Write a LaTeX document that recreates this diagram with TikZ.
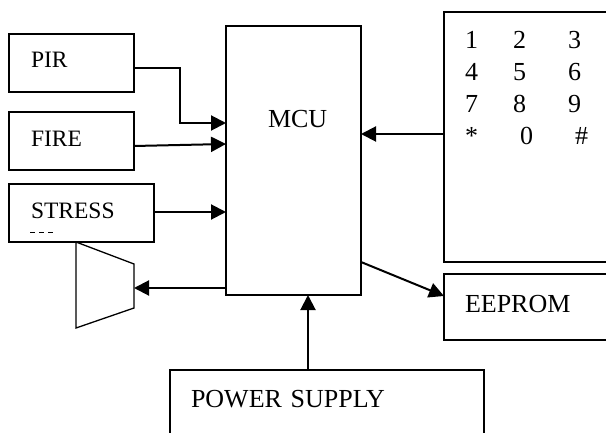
\documentclass[tikz,border=0pt]{standalone}
\usepackage{fontspec}
\setmainfont{Liberation Serif}
\usetikzlibrary{arrows.meta}
\tikzset{
  ->,
  >={Triangle[length=15pt,width=15pt]},
  x=1pt, y=1pt,
  link/.style={line width=2pt},
  block/.style={draw, line width=1.3pt, inner ysep=0pt, inner xsep=21pt, align=left, outer sep=0pt,
    font=\fontsize{26}{30}\selectfont},
  sensor/.style={block, inner xsep=22pt, text width=81pt, text height=35pt, text depth=23pt,
    font=\fontsize{23.5}{28}\selectfont},
  keylabel/.style={anchor=base west, inner sep=0pt, font=\fontsize{26}{30}\selectfont},
}

\begin{document}
\begin{tikzpicture}
		\useasboundingbox (0,0) rectangle (606,432);
		\clip (0,0) rectangle (606,432);

		% sensors
		\node[sensor, text height=34pt, text depth=24pt] (pir) at (71.5,369) {PIR};
		\node[sensor, node distance=78pt, below of=pir] (fire) {FIRE};
		\node[sensor, text width=101pt, node distance=72pt, below of=fire, xshift=10pt] (stress) {STRESS};
		\draw[-, line width=1pt, dash pattern=on 5pt off 4pt] (30,199.5) -- (56,199.5);

		% main blocks
		\node[block, inner xsep=42pt, text width=51pt, text height=102pt, text depth=167pt,
			node distance=222pt, right of=pir, yshift=-97.5pt] (mcu) {MCU};
		\node[block, inner sep=0pt, minimum width=176pt, minimum height=250pt,
			node distance=238.5pt, right of=mcu, yshift=23.5pt] (keypad) {};
		\node[block, text width=134pt, text height=38pt, text depth=28pt,
			node distance=170pt, below of=keypad] (eeprom) {EEPROM};
		\node[block, text width=272pt, text height=37pt, text depth=38pt,
			node distance=247pt, below of=mcu, xshift=33.5pt] (power) {POWER SUPPLY};

		% keys
		\foreach \keyname/\keyx/\keyy in {1/21/37, 2/69/37, 3/124/37,
				4/21/69, 5/69/69, 6/124/69,
				7/21/101, 8/69/101, 9/124/101,
				*/21/133, 0/76/133, \#/131/133}
			\node[keylabel, xshift=\keyx pt, yshift=-\keyy pt] (key\keyx-\keyy) at (keypad.north west) {\keyname};

		% buzzer
		\coordinate (buzzer) at (134,144);
		\draw[-, line width=1.3pt] (76,190) -- (134,168) -- (134,124) -- (76,104) -- cycle;

		% connections
		\draw[link] ([yshift=-5pt]pir.east) -- ++(46,0) |- ([yshift=37.5pt]mcu.west);
		\draw[link] ([yshift=-5pt]fire.east) -- ([yshift=16.5pt]mcu.west);
		\draw[link] ([yshift=1pt]stress.east) -- ([yshift=-51.5pt]mcu.west);
		\draw[link] ([yshift=-127.5pt]mcu.west) -- (buzzer);
		\draw[link] ([yshift=3pt]keypad.west) -- ([yshift=26.5pt]mcu.east);
		\draw[link] ([yshift=-101.5pt]mcu.east) -- ([yshift=11pt]eeprom.west);
		\draw[link] ([xshift=-19pt]power.north) -- ([xshift=14.5pt]mcu.south);

	\end{tikzpicture}
\end{document}
